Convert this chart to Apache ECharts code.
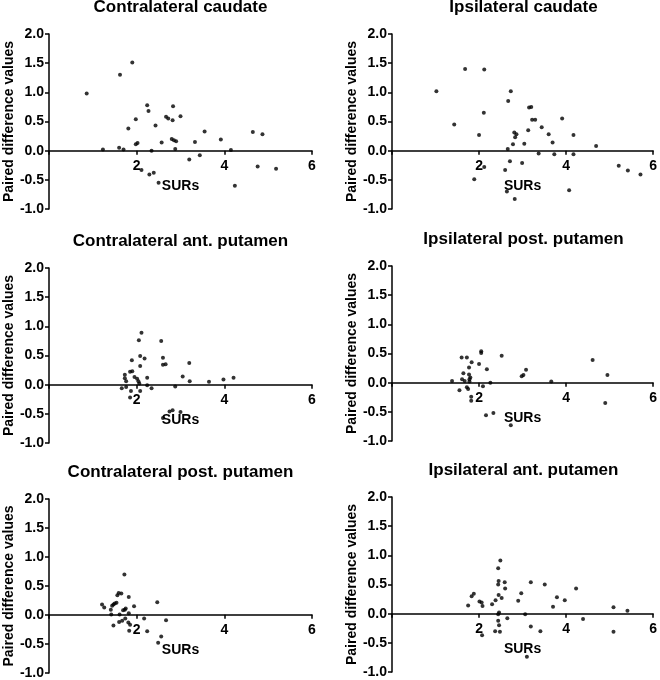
<!DOCTYPE html>
<html>
<head>
<meta charset="utf-8">
<script src="https://cdn.jsdelivr.net/npm/echarts@6/dist/echarts.min.js"></script>
<style>html,body{margin:0;padding:0;background:#fff}#c{width:660px;height:680px}</style>
</head>
<body>
<div id="c"></div>
<script>
// ---- Data ----
const titles = ['Contralateral caudate', 'Ipsilateral caudate', 'Contralateral ant. putamen',
  'Ipsilateral post. putamen', 'Contralateral post. putamen', 'Ipsilateral ant. putamen'];
const yAxisName = 'Paired difference values';
const xAxisName = 'SURs';
const xTickLabels = ['2', '4', '6'];
const yTickLabels = ['-1.0', '-0.5', '0.0', '0.5', '1.0', '1.5', '2.0'];

const contraCaudateX = [0.86,1.23,1.62,1.60,1.70,1.90,1.81,1.98,1.98,2.02,2.11,2.24,2.27,2.29,2.34,2.39,2.43,2.50,2.57,2.67,2.72,2.82,2.83,2.80,2.85,2.90,2.88,3.00,3.20,3.33,3.44,3.55,3.92,4.15,4.24,4.65,4.76,4.87,5.18];
const contraCaudateY = [0.98,0.02,1.30,0.05,0.02,1.51,0.38,0.54,0.11,0.13,-0.33,0.78,0.68,-0.41,0.00,-0.38,0.43,-0.55,0.14,0.58,0.55,0.52,0.76,0.20,0.18,0.16,0.03,0.59,-0.15,0.15,-0.08,0.33,0.19,0.01,-0.60,0.32,-0.27,0.28,-0.31];

const ipsiCaudateX = [1.02,1.43,1.68,1.89,2.00,2.11,2.12,2.12,2.60,2.64,2.66,2.67,2.71,2.73,2.78,2.81,2.83,2.86,2.82,2.99,3.04,3.13,3.15,3.20,3.22,3.29,3.37,3.44,3.60,3.69,3.73,3.91,4.07,4.17,4.17,4.69,5.21,5.42,5.71];
const ipsiCaudateY = [1.02,0.45,1.40,-0.49,0.27,0.65,1.39,-0.28,-0.33,-0.70,0.03,0.85,-0.18,1.02,0.11,0.31,0.23,0.28,-0.83,-0.21,0.12,0.35,0.74,0.75,0.53,0.53,-0.05,0.40,0.28,0.14,-0.06,0.55,-0.68,0.27,-0.06,0.08,-0.26,-0.34,-0.41];

const contraAntPutX = [1.66,1.73,1.73,1.76,1.76,1.85,1.89,1.90,1.87,1.85,1.95,2.01,2.04,2.05,2.08,2.08,2.06,2.08,2.11,2.18,2.24,2.24,2.34,2.56,2.60,2.60,2.66,2.60,2.75,2.82,2.88,3.00,3.05,3.20,3.21,3.65,3.98,4.21];
const contraAntPutY = [-0.06,0.17,0.11,0.06,-0.04,0.22,0.42,0.23,-0.11,-0.22,0.13,0.10,0.06,0.76,0.49,0.32,0.02,-0.11,0.89,0.45,0.12,-0.01,-0.06,0.75,0.46,0.34,0.35,-0.57,-0.46,-0.44,-0.03,-0.47,0.14,0.37,0.06,0.05,0.09,0.12];

const ipsiPostPutX = [1.38,1.55,1.60,1.61,1.64,1.67,1.72,1.72,1.75,1.77,1.77,1.78,1.78,1.80,1.82,1.82,1.83,2.00,2.05,2.05,2.09,2.18,2.16,2.26,2.33,2.52,2.73,2.98,3.02,3.08,3.66,4.61,4.90,4.95];
const ipsiPostPutY = [0.03,-0.13,0.43,0.06,0.16,0.03,0.43,-0.08,-0.11,0.26,0.14,0.06,0.02,0.09,-0.24,-0.31,0.35,0.32,0.54,0.51,-0.06,0.23,-0.56,0.00,-0.52,0.46,-0.73,0.11,0.13,0.22,0.02,0.39,-0.35,0.13];

const contraPostPutX = [1.21,1.26,1.42,1.41,1.44,1.47,1.50,1.54,1.47,1.56,1.59,1.61,1.60,1.65,1.67,1.69,1.72,1.73,1.75,1.74,1.81,1.82,1.82,1.85,1.83,1.94,2.17,2.24,2.47,2.49,2.56,2.67];
const contraPostPutY = [0.18,0.13,0.01,0.09,0.16,0.18,0.20,0.21,-0.18,0.34,0.38,0.01,-0.12,0.37,-0.10,0.08,0.70,0.09,0.11,-0.06,-0.13,0.31,0.03,-0.17,-0.27,0.15,-0.06,-0.28,0.22,-0.48,-0.37,-0.09];

const ipsiAntPutX = [1.75,1.83,1.88,2.01,2.06,2.08,2.07,2.30,2.38,2.37,2.44,2.44,2.45,2.45,2.44,2.46,2.44,2.46,2.48,2.49,2.52,2.59,2.60,2.65,2.90,2.97,3.06,3.10,3.19,3.19,3.41,3.51,3.70,3.79,3.97,4.23,4.39,5.09,5.09,5.41];
const ipsiAntPutY = [0.14,0.30,0.34,0.21,0.19,0.13,-0.37,0.16,0.23,-0.30,0.78,0.50,0.56,0.32,-0.01,0.02,-0.12,-0.20,-0.31,0.91,0.27,0.54,0.43,-0.08,0.22,0.35,-0.01,-0.74,0.54,-0.22,-0.30,0.50,0.12,0.28,0.23,0.43,-0.09,0.11,-0.31,0.05];

const panelX = [contraCaudateX, ipsiCaudateX, contraAntPutX, ipsiPostPutX, contraPostPutX, ipsiAntPutX];
const panelY = [contraCaudateY, ipsiCaudateY, contraAntPutY, ipsiPostPutY, contraPostPutY, ipsiAntPutY];

// ---- Layout ----
const yMin = -1, yMax = 2;
const gridLefts = [49, 392, 49, 392, 49, 392];
const gridTops = [34, 34, 268, 266, 499, 497];
const gridW = 263, gridH = 175;
const FONT = 'Arial, "Liberation Sans", sans-serif';
// x axis sits on y = 0: shift it up from the grid bottom by the scale distance of 0 from yMin
const xAxisOffset = -gridH * (0 - yMin) / (yMax - yMin);

const option = { animation: false, backgroundColor: '#fff', title: [], grid: [], xAxis: [], yAxis: [], series: [] };
for (let i = 0; i < 6; i++) {
  option.title.push({
    text: titles[i], left: gridLefts[i] + gridW / 2, top: gridTops[i] - 35, textAlign: 'center', padding: 0,
    textStyle: { fontFamily: FONT, fontSize: 17, fontWeight: 'bold', color: '#000' }
  });
  option.grid.push({ left: gridLefts[i], top: gridTops[i], width: gridW, height: gridH, containLabel: false });
  option.xAxis.push({
    type: 'value', gridIndex: i, min: 0, max: 6, interval: 2, position: 'bottom', offset: xAxisOffset,
    name: xAxisName, nameLocation: 'middle', nameGap: 28,
    nameTextStyle: { fontFamily: FONT, fontSize: 14, fontWeight: 'bold', color: '#000' },
    axisLine: { show: true, onZero: false, lineStyle: { color: '#000', width: 1.5 } },
    axisTick: { show: true, length: 4, inside: false, lineStyle: { color: '#000', width: 1.5 } },
    splitLine: { show: false },
    axisLabel: { margin: 8, fontFamily: FONT, fontSize: 14, fontWeight: 'bold', color: '#000',
      formatter: v => { const k = Math.round(v / 2) - 1; return k >= 0 ? xTickLabels[k] : ''; } }
  });
  option.yAxis.push({
    type: 'value', gridIndex: i, min: yMin, max: yMax, interval: 0.5,
    name: yAxisName, nameLocation: 'middle', nameGap: 30,
    nameTextStyle: { fontFamily: FONT, fontSize: 14, fontWeight: 'bold', color: '#000' },
    axisLine: { show: true, onZero: false, lineStyle: { color: '#000', width: 1.5 } },
    axisTick: { show: true, length: 4, inside: false, lineStyle: { color: '#000', width: 1.5 } },
    splitLine: { show: false },
    axisLabel: { margin: 5, fontFamily: FONT, fontSize: 14, fontWeight: 'bold', color: '#000',
      formatter: v => yTickLabels[Math.round((v - yMin) * 2)] }
  });
  option.series.push({
    type: 'scatter', xAxisIndex: i, yAxisIndex: i, symbol: 'circle', symbolSize: 4,
    itemStyle: { color: '#000' },
    data: panelX[i].map((x, j) => [x, panelY[i][j]])
  });
}
const chart = echarts.init(document.getElementById('c'), null, { renderer: 'canvas' });
chart.setOption(option);
</script>
</body>
</html>
